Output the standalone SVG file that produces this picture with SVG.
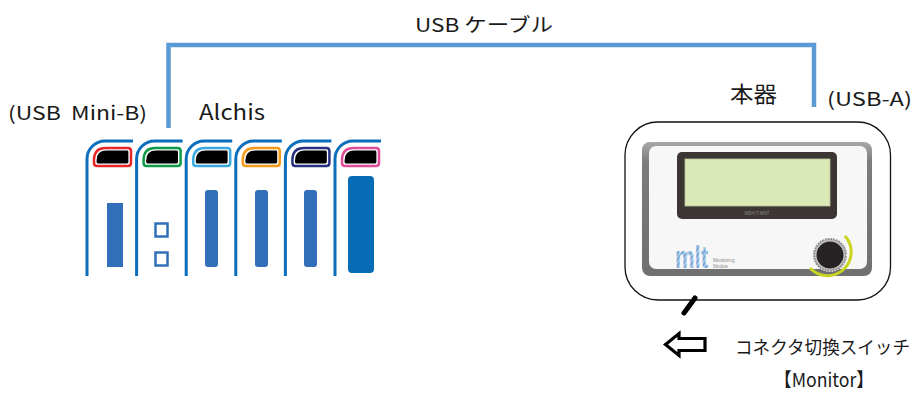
<svg xmlns="http://www.w3.org/2000/svg" xmlns:xlink="http://www.w3.org/1999/xlink" width="923" height="394" viewBox="0 0 923 394">
  <style>
    text { font-family: "Noto Sans CJK JP", "Noto Sans", "DejaVu Sans", sans-serif; fill: #1a1a1a; }
    .lbl { font-size: 19px; }
    .cable { fill: none; stroke: #5b9bd5; stroke-width: 4.5; stroke-linejoin: miter; stroke-linecap: butt; }
    .body { fill: none; stroke: #0b6ebd; stroke-width: 3; }
    .bar { fill: #3170b9; }
    .tiny { font-family: "Liberation Sans", Arial, sans-serif; fill: #8a8a8a; }
  </style>
  <defs>
    <!-- one slice of the I/O rack: outer casing line -->
    <path id="casing" class="body" d="M0,276 V159 A18 18 0 0 1 18,141 H46"/>
    <!-- connector window, coloured rim + black opening -->
    <g id="port">
      <path d="M7,163 V160 Q7,148 19,148 H41 Q44,148 44,151 V163 Q44,166 41,166 H10 Q7,166 7,163 Z" fill="#ffffff" stroke="currentColor" stroke-width="2.5"/>
      <path d="M9.6,162 V160.5 Q9.6,150.6 19.5,150.6 H40 Q41.4,150.6 41.4,152 V162 Q41.4,163.4 40,163.4 H11 Q9.6,163.4 9.6,162 Z" fill="#000000"/>
    </g>
    <pattern id="hatch" width="3" height="3" patternUnits="userSpaceOnUse" patternTransform="rotate(45)">
      <rect width="3" height="3" fill="#a9c8e8"/>
      <rect width="1.2" height="3" fill="#6d9fd3"/>
    </pattern>
    <linearGradient id="panelRim" x1="0" y1="0" x2="0" y2="1">
      <stop offset="0" stop-color="#a8a8a8"/>
      <stop offset="0.15" stop-color="#7c7c7c"/>
      <stop offset="1" stop-color="#707070"/>
    </linearGradient>
  </defs>

  <!-- USB cable between the rack and the monitor -->
  <g id="connectors">
    <path class="cable" d="M168.5,128 V45 H814 V107"/>
  </g>

  <!-- labels -->
  <g id="labels">
    <text class="lbl" x="415" y="32" textLength="138" lengthAdjust="spacingAndGlyphs">USB ケーブル</text>
    <text class="lbl" x="8" y="120" font-size="18" style="white-space:pre" textLength="139" lengthAdjust="spacingAndGlyphs">(USB  Mini-B)</text>
    <text x="199" y="120" font-size="21" textLength="66" lengthAdjust="spacingAndGlyphs">Alchis</text>
    <text x="730" y="102" font-size="22" textLength="47" lengthAdjust="spacingAndGlyphs">本器</text>
    <text class="lbl" x="827" y="106" font-size="18" textLength="85" lengthAdjust="spacingAndGlyphs">(USB-A)</text>
  </g>

  <!-- Alchis rack modules -->
  <g id="module-1">
    <use xlink:href="#casing" x="87"/>
    <use xlink:href="#port" x="87" style="color:#e8262a"/>
    <rect class="bar" x="107" y="203" width="16" height="64"/>
  </g>
  <g id="module-2">
    <use xlink:href="#casing" x="136.6"/>
    <use xlink:href="#port" x="136.6" style="color:#0f9a48"/>
    <rect x="155.5" y="223.5" width="12" height="13" fill="#ffffff" stroke="#3170b9" stroke-width="2.5"/>
    <rect x="155.5" y="252.5" width="12" height="13" fill="#ffffff" stroke="#3170b9" stroke-width="2.5"/>
  </g>
  <g id="module-3">
    <use xlink:href="#casing" x="186.2"/>
    <use xlink:href="#port" x="186.2" style="color:#3aa8e0"/>
    <rect class="bar" x="205" y="190" width="13" height="77" rx="3"/>
  </g>
  <g id="module-4">
    <use xlink:href="#casing" x="235.8"/>
    <use xlink:href="#port" x="235.8" style="color:#f39a1b"/>
    <rect class="bar" x="255" y="190" width="13" height="77" rx="3"/>
  </g>
  <g id="module-5">
    <use xlink:href="#casing" x="285.4"/>
    <use xlink:href="#port" x="285.4" style="color:#28307f"/>
    <rect class="bar" x="304" y="190" width="13" height="77" rx="3"/>
  </g>
  <g id="module-6">
    <use xlink:href="#casing" x="335"/>
    <use xlink:href="#port" x="335" style="color:#e04c98"/>
    <rect x="348" y="176" width="26" height="97" rx="4" fill="#066cb5"/>
  </g>

  <!-- monitoring unit -->
  <g id="monitor">
    <rect x="625" y="122" width="265.5" height="178" rx="33" fill="#ffffff" stroke="#111111" stroke-width="1.3"/>
    <rect x="642" y="142" width="230" height="134" rx="8" fill="url(#panelRim)"/>
    <rect x="649" y="146" width="218" height="123" rx="7" fill="#f7f7f7"/>
    <!-- LCD -->
    <rect x="677" y="152" width="160" height="67" rx="5" fill="#3b3634"/>
    <rect x="685" y="159" width="145" height="47" fill="#dbe8b8" stroke="#b9c596" stroke-width="0.8"/>
    <text class="tiny" x="757" y="215" font-size="4.5" text-anchor="middle" fill="#6e6e6e">MSH-T-MNT</text>
    <!-- maker mark -->
    <text transform="translate(675,268) scale(1,1.45)" font-size="22" font-weight="bold" textLength="33" lengthAdjust="spacingAndGlyphs" style="font-family:'Liberation Sans',Arial,sans-serif;fill:url(#hatch)">mlt</text>
    <text class="tiny" x="713" y="262" font-size="4.6">Monitoring</text>
    <text class="tiny" x="713" y="267.5" font-size="4.6">Module</text>
    <!-- selector knob -->
    <path d="M845,236 A20 20 0 1 1 810,268" fill="none" stroke="#c9d420" stroke-width="3"/>
    <circle cx="830" cy="255" r="17" fill="#8d8d8d"/>
    <circle cx="830" cy="255" r="16.3" fill="none" stroke="#e9e9e9" stroke-width="1.4" stroke-dasharray="1.2 1.6"/>
    <circle cx="830" cy="255" r="15" fill="#c4c4c4"/>
    <circle cx="830" cy="255" r="13.5" fill="#272324"/>
  </g>

  <!-- connector switch lever and its callout -->
  <g id="switch">
    <line x1="695" y1="298" x2="684" y2="313" stroke="#000000" stroke-width="5" stroke-linecap="round"/>
    <path d="M665.5,344.5 L679,333.5 V338.5 H705 V350.5 H679 V355.5 Z" fill="#ffffff" stroke="#000000" stroke-width="3.2" stroke-linejoin="miter"/>
    <text x="735" y="354" font-size="18" textLength="175" lengthAdjust="spacingAndGlyphs">コネクタ切換スイッチ</text>
    <text x="774" y="387" font-size="19" textLength="100" lengthAdjust="spacingAndGlyphs">【Monitor】</text>
  </g>
</svg>
